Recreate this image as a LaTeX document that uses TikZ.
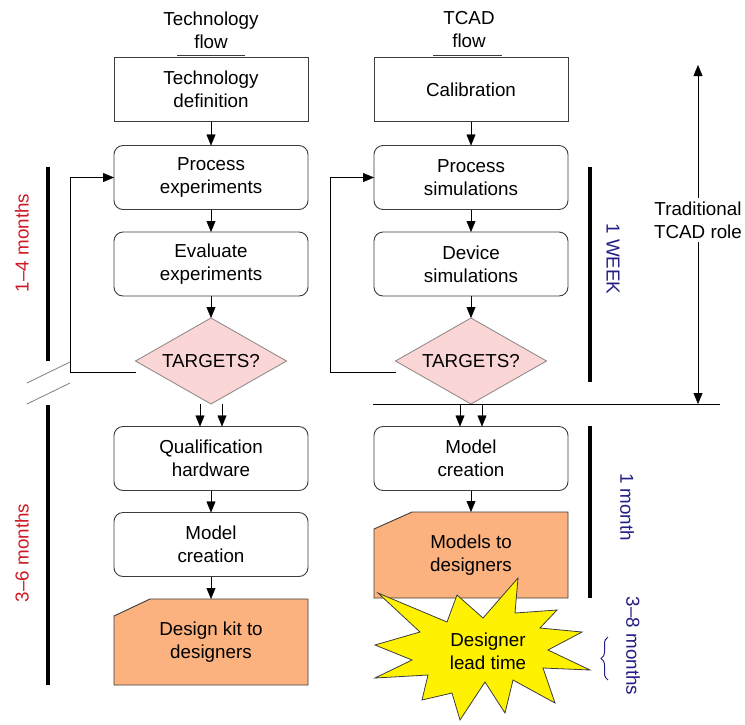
\documentclass[tikz,border=0pt]{standalone}
\usepackage{fontspec}
\setmainfont{Liberation Sans}
\usetikzlibrary{arrows.meta, shapes.geometric, positioning, backgrounds, decorations.pathreplacing}

\definecolor{kitorange}{RGB}{252,178,126}
\definecolor{targpink}{RGB}{250,214,214}
\definecolor{targedge}{RGB}{150,140,140}
\definecolor{monthred}{RGB}{205,25,35}
\definecolor{weeknavy}{RGB}{35,30,130}
\definecolor{lineg}{RGB}{60,60,60}

\tikzset{
  box/.style={draw=lineg, line width=0.9pt, minimum width=194pt, minimum height=64pt, align=center, outer sep=0pt},
  rbox/.style={box, rounded corners=9pt},
  target/.style={diamond, aspect=1.75, draw=targedge, line width=0.9pt, fill=targpink, minimum width=151pt, minimum height=86pt, inner sep=0pt, outer sep=0pt},
  outbox/.style={minimum width=194pt, minimum height=86pt, align=center, outer sep=0pt},
  outline/.style={draw=lineg, fill=kitorange, line width=0.9pt},
  bar/.style={line width=4pt},
}

\begin{document}
\begin{tikzpicture}[x=1pt, y=-1pt, >={Triangle[length=11pt,width=9pt]}, font=\fontsize{18.8}{23}\selectfont]
            \useasboundingbox (0,0) rectangle (745,724);

            \node[align=center] (techhead) at (211, 30) {Technology\\flow};
            \node[align=center] (tcadhead) at (469, 30) {TCAD\\flow};

            \node[box] (techdef) at (211, 89.5) {Technology\\definition};
            \node[rbox] (procexp) at (211, 177.5) {Process\\experiments};
            \node[rbox] (evalexp) at (211, 264) {Evaluate\\experiments};
            \node[target] (targL) at (211, 361) {TARGETS?};
            \node[rbox] (qual) at (211, 458.5) {Qualification\\hardware};
            \node[rbox] (modelL) at (211, 544.5) {Model\\creation};
            \node[outbox] (kit) at (211, 642) {Design kit to\\designers};

            \node[box] (calib) at (471, 89.5) {Calibration};
            \node[rbox] (procsim) at (471, 177.5) {Process\\simulations};
            \node[rbox] (devsim) at (471, 264) {Device\\simulations};
            \node[target] (targR) at (471, 361) {TARGETS?};
            \node[rbox] (modelR) at (471, 458.5) {Model\\creation};
            \node[outbox] (modelsdes) at (471, 555) {Models to\\designers};

            \begin{scope}[on background layer]
            \draw[outline] (kit.south west) -- ([yshift=-17pt]kit.north west) -- ([xshift=36pt]kit.north west) -- (kit.north east) -- (kit.south east) -- cycle;
            \draw[outline] (modelsdes.south west) -- ([yshift=-17pt]modelsdes.north west) -- ([xshift=38pt]modelsdes.north west) -- (modelsdes.north east) -- (modelsdes.south east) -- cycle;
            \end{scope}

            \draw[lineg, line width=0.8pt] ([xshift=-34pt, yshift=2pt]techdef.north) -- ++(68,0);
            \draw[lineg, line width=0.8pt] ([xshift=-38pt, yshift=2pt]calib.north) -- ++(69,0);

            \draw[->] (techdef) -- (procexp);
            \draw[->] (procexp) -- (evalexp);
            \draw[->] (evalexp) -- (targL);
            \draw[->] ([xshift=-11pt]targL.south) -- ([xshift=-11pt]qual.north);
            \draw[->] ([xshift=11pt]targL.south) -- ([xshift=11pt]qual.north);
            \draw[->] (qual) -- (modelL);
            \draw[->] (modelL) -- (kit);
            \draw[->] ([yshift=-11pt]targL.west) -- ++(-65,0) |- (procexp.west);

            \draw[->] (calib) -- (procsim);
            \draw[->] (procsim) -- (devsim);
            \draw[->] (devsim) -- (targR);
            \draw[->] ([xshift=-11pt]targR.south) -- ([xshift=-11pt]modelR.north);
            \draw[->] ([xshift=11pt]targR.south) -- ([xshift=11pt]modelR.north);
            \draw[->] (modelR) -- (modelsdes);
            \draw[->] ([yshift=-11pt]targR.west) -- ++(-65,0) |- (procsim.west);

            \draw[bar] (48, 167) -- (48, 361);
            \draw[bar] (48, 405) -- (48, 685);
            \draw[gray, line width=0.8pt] (27, 383) -- (70, 362);
            \draw[gray, line width=0.8pt] (27, 404) -- (70, 383);
            \node[rotate=90, monthred] (fourmo) at (22, 243) {1–4 months};
            \node[rotate=90, monthred] (sixmo) at (22, 553) {3–6 months};

            \draw[bar] (590, 167) -- (590, 382);
            \draw[bar] (590, 426) -- (590, 598);
            \node[rotate=-90, weeknavy] (week) at (613, 259) {1 WEEK};
            \node[rotate=-90, weeknavy] (month) at (627, 507) {1 month};
            \node[rotate=-90, weeknavy] (eightmo) at (633, 646) {3–8 months};

            \draw[line width=0.8pt] (373, 404) -- (720, 404);
            \coordinate (roletop) at (698, 65);
            \coordinate (rolebot) at (698, 404);
            \node[align=center] (role) at (698, 220) {Traditional\\TCAD role};
            \draw[->] (role) -- (roletop);
            \draw[->] (role) -- (rolebot);

            \filldraw[fill=yellow, draw=lineg, line width=0.8pt] (518,578) -- (515,613) -- (557,610) -- (540,628) -- (582,632) -- (548,650) -- (590,670) -- (543,668) -- (555,703) -- (513,680) -- (505,713) -- (485,682) -- (460,720) -- (452,693) -- (422,700) -- (428,675) -- (375,678) -- (412,660) -- (375,645) -- (420,632) -- (378,593) -- (447,622) -- (457,595) -- (483,618) -- cycle;
            \node[align=center] (lead) at (488, 651) {Designer\\lead time};
            \draw[weeknavy, line width=1pt, decorate, decoration={brace, amplitude=7pt}] (608, 680) -- (608, 637);
        \end{tikzpicture}
\end{document}
